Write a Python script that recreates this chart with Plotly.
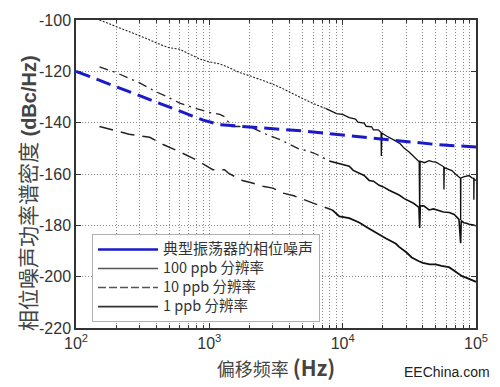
import plotly.graph_objects as go

# ---------------- data ----------------
OSC_F = [100, 300, 600, 900, 1200, 2000, 5000, 10000, 20000, 50000, 100000]
OSC_DB = [-120, -129.5, -135.6, -139, -140.8, -141.6, -143.2, -144.8, -146.5, -148.5, -149.5]

P100_F = [150, 200, 253, 330, 425, 500, 600, 700, 845, 1000, 1195, 1400, 1688, 2000, 2500,
          3000, 3540, 4500, 5200, 6310, 7500, 9000, 10000, 11200, 12500, 13000, 14500, 15000,
          16500, 17000, 18500, 19400, 19500, 19700, 21000, 23000, 25100, 27000, 29000, 31500,
          34000, 37500, 37800, 38100, 41000, 44500, 47000, 50000, 52500, 55000, 57300, 57500,
          57800, 61000, 66000, 70000, 74000, 76500, 76700, 77000, 82000, 88700, 93000, 96200,
          96400, 96700, 100000]
P100_DB = [-100, -102.5, -104.6, -107, -109.5, -110.8, -111.4, -113, -115.2, -116.3, -117.1,
           -118.5, -120.5, -121.7, -123.5, -125, -126.7, -129.5, -131, -133, -134.5, -136.5,
           -136.8, -138, -138.6, -139.8, -140.2, -141.4, -141.6, -142.8, -142.8, -143.8, -153,
           -144, -145, -146, -147.2, -148.2, -150, -151.4, -153, -155.2, -178, -155, -155.6,
           -154.8, -155.2, -155.4, -156, -156.8, -157.2, -166, -157.5, -158, -158.7, -160,
           -161, -161.7, -178, -161.5, -161, -160.6, -161.5, -161.7, -170, -162, -162.5]

P10_F = [150, 200, 300, 400, 500, 600, 800, 1000, 1200, 1300, 1470, 1690, 2100, 2690, 3360,
         4000, 4730, 5500, 6300, 7930, 9440, 10500, 11200, 12000, 13300, 14500, 15800, 17000,
         18800, 20500, 22300, 24000, 26500, 29000, 31500, 34000, 37300, 37800, 38200, 40600,
         44500, 48000, 52500, 57000, 63000, 68700, 74500, 76700, 77500, 81000, 85000, 88700,
         94000, 100000]
P10_DB = [-118.3, -120.5, -124.5, -128, -130.3, -132.4, -134.5, -136, -136.8, -137.7, -141.5,
          -141.5, -142, -144.6, -146.5, -148.4, -150.3, -151, -152.2, -154.9, -156, -156.4,
          -157, -158.6, -159.8, -160.6, -162.5, -162.8, -164.4, -165.2, -166.3, -167, -168.2,
          -169.6, -170.5, -171.4, -173, -181, -172.4, -172.4, -174, -173.6, -174.2, -174.8,
          -175, -175.8, -177.7, -187, -178.2, -179, -179.2, -179.6, -179.8, -180.2]

P1_F = [150, 200, 250, 357, 450, 600, 800, 1000, 1060, 1200, 1300, 1400, 1774, 2100, 2510,
        3000, 3540, 4300, 5340, 6500, 8350, 9440, 11200, 13300, 15500, 17900, 18800, 21000,
        25100, 26500, 30000, 33000, 37300, 40000, 45000, 50000, 55000, 62700, 70000, 78500,
        85000, 93000, 100000]
P1_DB = [-141.5, -143.2, -144.5, -145.7, -148.5, -151.4, -154.5, -157.5, -158.3, -158.3,
         -158.3, -159.8, -162.5, -163.5, -164.8, -165.5, -167.4, -168.5, -170.5, -172, -174,
         -176.5, -177.2, -178.9, -181, -183, -183.4, -185, -187.2, -188.4, -190.5, -192.5,
         -194, -194.6, -195.2, -195.2, -195.8, -196.3, -198, -199.8, -200.5, -201.4, -202]

LEGEND_NAMES = ["典型振荡器的相位噪声", "100 ppb 分辨率", "10 ppb 分辨率", "1 ppb 分辨率"]

X_TICK_VALS = [100, 1000, 10000, 100000]
X_TICK_TEXT = ["10<sup>2</sup>", "10<sup>3</sup>", "10<sup>4</sup>", "10<sup>5</sup>"]
Y_TICKS = [-220, -200, -180, -160, -140, -120, -100]
Y_TICK_TEXT = ["-220", "-200", "-180", "-160", "-140", "-120", "-100"]

X_TITLE = '偏移频率 <span style="font-size:21px"><b>(Hz)</b></span>'
Y_TITLE = '<span style="font-size:21px">相位噪声功率谱密度</span> <b>(dBc/Hz)</b>'

SPLIT_HZ = 8500  # where the sparse (dashed-looking) traces become dense noisy traces

FONT = "'Liberation Sans', Arial, 'Noto Sans CJK SC', sans-serif"
CJK = "'Noto Sans CJK SC', 'Liberation Sans', sans-serif"
TITLE_FONT = "'Liberation Sans', 'Noto Sans CJK SC', sans-serif"
GRID = dict(showgrid=True, gridcolor="#8a8a8a", griddash="1px,2px", gridwidth=1)


def split(fs, vs, cut):
    lo = [(f, v) for f, v in zip(fs, vs) if f <= cut]
    hi = [(f, v) for f, v in zip(fs, vs) if f >= lo[-1][0]]
    return ([p[0] for p in lo], [p[1] for p in lo]), ([p[0] for p in hi], [p[1] for p in hi])


fig = go.Figure()

# dense (noisy) high-frequency parts
for fs, vs, w in [(P100_F, P100_DB, 1.3), (P10_F, P10_DB, 1.6), (P1_F, P1_DB, 1.8)]:
    lo, hi = split(fs, vs, SPLIT_HZ)
    fig.add_trace(go.Scatter(x=hi[0], y=hi[1], mode="lines", showlegend=False,
                             line=dict(color="#111111", width=w)))

# sparse low-frequency parts
lo100, _ = split(P100_F, P100_DB, SPLIT_HZ)
fig.add_trace(go.Scatter(x=lo100[0], y=lo100[1], mode="lines", showlegend=False,
                         line=dict(color="#222222", width=1.1, dash="2px,1.5px")))
lo10, _ = split(P10_F, P10_DB, SPLIT_HZ)
fig.add_trace(go.Scatter(x=lo10[0], y=lo10[1], mode="lines", showlegend=False,
                         line=dict(color="#222222", width=1.3, dash="9px,5px,2px,5px")))
lo1, _ = split(P1_F, P1_DB, SPLIT_HZ)
fig.add_trace(go.Scatter(x=lo1[0], y=lo1[1], mode="lines", showlegend=False,
                         line=dict(color="#222222", width=1.5, dash="14px,8px")))

# typical oscillator
fig.add_trace(go.Scatter(x=OSC_F, y=OSC_DB, mode="lines", showlegend=False,
                         line=dict(color="#1a1acc", width=3, dash="15px,7px")))

# legend entries
legend_styles = [dict(color="#1a1acc", width=2.5),
                 dict(color="#555555", width=1.5),
                 dict(color="#555555", width=1.5, dash="8px,3px"),
                 dict(color="#333333", width=1.8)]
legend_sizes = [15, 14.5, 14.5, 14.5]
for name, st, sz in zip(LEGEND_NAMES, legend_styles, legend_sizes):
    fig.add_trace(go.Scatter(x=[None], y=[None], mode="lines",
                             name=f'<span style="font-size:{sz}px">{name}</span>', line=st))

fig.update_layout(
    width=500, height=387,
    margin=dict(l=76, r=23, t=13, b=59),
    paper_bgcolor="white", plot_bgcolor="white",
    font=dict(family=FONT, color="#333333", size=15),
    legend=dict(x=0.04, y=0.305, xanchor="left", yanchor="top",
                bgcolor="white", bordercolor="#b0b0b0", borderwidth=1,
                font=dict(family=CJK, size=12, color="#333333"),
                itemwidth=60, tracegroupgap=0),
    xaxis=dict(type="log", range=[2, 5],
               tickvals=X_TICK_VALS, ticktext=X_TICK_TEXT,
               ticks="inside", ticklen=5, tickcolor="#333333",
               showline=True, linecolor="#333333", linewidth=1.5, mirror="ticks",
               **GRID,
               minor=dict(tickvals=[m * 10 ** e for e in (2, 3, 4) for m in range(2, 10)],
                          ticks="inside", ticklen=3, tickcolor="#333333", **GRID),
               tickfont=dict(size=16, color="#333333"),
               ticklabeloverflow="allow",
               title=dict(text=X_TITLE, font=dict(family=CJK, size=18, color="#444444"),
                          standoff=0),
               zeroline=False),
    yaxis=dict(range=[-220, -100], tickvals=Y_TICKS, ticktext=Y_TICK_TEXT,
               ticks="inside", ticklen=5, tickcolor="#333333",
               showline=True, linecolor="#333333", linewidth=1.5, mirror="ticks",
               **GRID,
               tickfont=dict(size=16, color="#333333"),
               zeroline=False),
    annotations=[
        dict(text=Y_TITLE, textangle=-90, xref="paper", yref="paper",
             x=-0.12, y=0.438, xanchor="center", yanchor="middle", showarrow=False,
             font=dict(family=TITLE_FONT, size=20, color="#444444")),
        dict(text="EEChina.com", xref="paper", yref="paper", x=1.04, y=-0.143,
             xanchor="right", yanchor="middle", showarrow=False,
             font=dict(family="'Liberation Sans Narrow', 'Liberation Sans', sans-serif",
                       size=14, color="#222222")),
    ],
)

fig.write_html("out.html", config={"displayModeBar": False},
               post_script="document.body.style.margin='0px';")
